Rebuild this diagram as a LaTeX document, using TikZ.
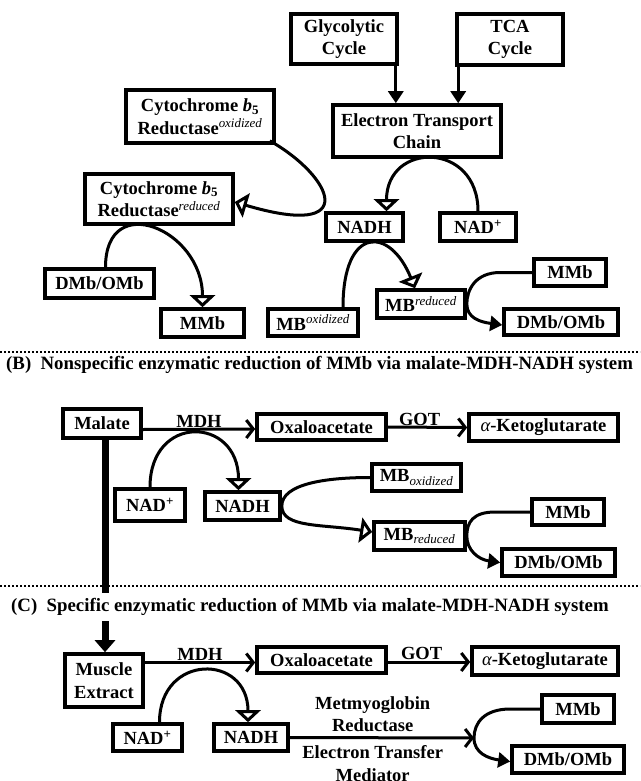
\documentclass[tikz,border=0pt]{standalone}
\usepackage{fontspec}
\setmainfont{Liberation Serif}
\usetikzlibrary{arrows.meta,calc}

\newcommand{\boxfont}{\bfseries\fontsize{18.5}{22.5}\selectfont}
\newcommand{\headfont}{\bfseries\fontsize{18.8}{22}\selectfont}
\newcommand{\supit}[1]{\textsuperscript{\mdseries\itshape #1}}
\newcommand{\subit}[1]{\textsubscript{\mdseries\itshape #1}}

\tikzset{
  box/.style={draw, line width=3.6pt, fill=white, font=\boxfont, align=center, inner sep=2pt},
  lbl/.style={font=\boxfont, align=center, inner sep=0.5pt},
  link/.style={line width=3pt},
  openhead/.style={link, -{Triangle[open, length=12pt, width=25pt]}},
  fillhead/.style={link, -{Triangle[length=12pt, width=15pt]}},
  barbhead/.style={link, -{Straight Barb[length=7pt, width=18pt]}},
  sep/.style={line width=2pt, dash pattern=on 2pt off 2pt},
  heading/.style={font=\headfont, anchor=west, inner sep=0pt},
}

\begin{document}
\begin{tikzpicture}[x=1pt,y=-1pt]
    \useasboundingbox (0,0) rectangle (640,781);

    % (A) Sources of NADH
    \node[box, minimum width=106pt, minimum height=50pt] (glyc) at (344,39) {Glycolytic\\Cycle};
    \node[box, minimum width=106pt, minimum height=51pt] (tca) at (510,39.5) {TCA\\Cycle};
    \node[box, minimum width=168pt, minimum height=52pt] (etc) at (417,131) {Electron Transport\\Chain};
    \node[box, minimum width=148pt, minimum height=53pt] (cytox) at (200,116.5) {Cytochrome \textit{b}\textsubscript{5}\\Reductase\supit{oxidized}};
    \node[box, minimum width=148pt, minimum height=50pt] (cytred) at (159,199) {Cytochrome \textit{b}\textsubscript{5}\\Reductase\supit{reduced}};
    \node[box, minimum width=77pt, minimum height=28pt] (nadhA) at (364.5,227) {NADH};
    \node[box, minimum width=76pt, minimum height=28pt] (nadpA) at (478,227) {NAD\textsuperscript{+}};

    % (A) Myoglobin pairs
    \node[box, minimum width=109pt, minimum height=29pt] (dmbA) at (99.5,283.5) {DMb/OMb};
    \node[box, minimum width=83pt, minimum height=28pt] (mmbA) at (202.5,323) {MMb};
    \node[box, minimum width=90pt, minimum height=27pt] (mboxA) at (313,322.5) {MB\supit{oxidized}};
    \node[box, minimum width=88pt, minimum height=28pt] (mbredA) at (421,304) {MB\supit{reduced}};
    \node[box, minimum width=72pt, minimum height=27pt] (mmbA2) at (570,272.5) {MMb};
    \node[box, minimum width=114pt, minimum height=26pt] (dmbA2) at (561,322) {DMb/OMb};

    \draw[fillhead] ([xshift=-3pt]glyc.south east) -- ([xshift=-3pt]glyc.south east |- etc.north);
    \draw[fillhead] ([xshift=3pt]tca.south west) -- ([xshift=3pt]tca.south west |- etc.north);
    \draw[openhead] (nadpA.north) .. controls +(0,-70) and +(0,-70) .. ($(nadhA.north)+(22,0)$);
    \draw[openhead] ($(cytox.south east)+(-6,-4)$) .. controls +(62,35) and +(128,38) .. ($(cytred.east)+(0,3)$);
    \draw[openhead] ($(dmbA.north)+(6,0)$) .. controls +(0,-78) and +(0,-78) .. (mmbA.north);
    \draw[openhead] ($(mboxA.north)+(30,0)$) .. controls +(0,-82) and +(-25,-62) .. ($(mbredA.north)+(-6,0)$);
    \draw[fillhead] (mmbA2.west) -- ++(-32,0) .. controls +(-25,0) and +(0,-14) .. (mbredA.east)
        .. controls +(0,14) and +(-22,-3) .. ($(dmbA2.west)+(0,3)$);

    \draw[sep] (0,352) -- (640,352);

    % (B) Malate-MDH-NADH system
    \node[heading] (headB) at (6,365) {(B)~~Nonspecific enzymatic reduction of MMb via malate-MDH-NADH system};
    \node[box, minimum width=78pt, minimum height=29pt] (malate) at (102,423.5) {Malate};
    \node[box, minimum width=129pt, minimum height=26pt] (oxaB) at (321.5,427) {Oxaloacetate};
    \node[box, minimum width=149pt, minimum height=27pt] (akgB) at (543.5,427.5) {{\mdseries\itshape α}-Ketoglutarate};
    \node[box, minimum width=70pt, minimum height=32pt] (nadpB) at (150,505) {NAD\textsuperscript{+}};
    \node[box, minimum width=75pt, minimum height=28pt] (nadhB) at (242.5,506) {NADH};
    \node[box, minimum width=89pt, minimum height=27pt] (mboxB) at (416.5,477.5) {MB\subit{oxidized}};
    \node[box, minimum width=91pt, minimum height=28pt] (mbredB) at (419.5,536) {MB\subit{reduced}};
    \node[box, minimum width=72pt, minimum height=26pt] (mmbB) at (568,512) {MMb};
    \node[box, minimum width=113pt, minimum height=27pt] (dmbB) at (558.5,562.5) {DMb/OMb};

    \draw[barbhead] ($(malate.east)+(0,6)$) -- node[lbl, above] {MDH} ($(oxaB.west)+(0,2)$);
    \draw[barbhead] (oxaB.east) -- node[lbl, above, pos=0.4] {GOT} (akgB.west);
    \draw[openhead] (nadpB.north) .. controls +(0,-74) and +(0,-74) .. ($(nadhB.north)+(-4,0)$);
    \draw[link] (nadhB.east) .. controls +(0,-22) and +(-45,0) .. (mboxB.west);
    \draw[openhead] (nadhB.east) .. controls +(0,22) and +(-50,-8) .. ($(mbredB.west)+(0,-4)$);
    \draw[fillhead] (mmbB.west) -- ++(-35,0) .. controls +(-22,0) and +(0,-14) .. (mbredB.east)
        .. controls +(0,14) and +(-22,-3) .. (dmbB.west);

    \draw[sep] (0,586) -- (640,586);

    % (C) Muscle extract
    \node[box, minimum width=78pt, minimum height=53pt] (muscle) at (104,680.5) {Muscle\\Extract};
    \draw[line width=7pt, -{Triangle[length=12pt, width=20pt]}] ($(malate.south)+(3,0)$) -- ($(muscle.north)+(1,0)$);
    \node[heading, fill=white, inner ysep=5pt] (headC) at (11,607) {(C)~~Specific enzymatic reduction of MMb via malate-MDH-NADH system};

    \node[box, minimum width=129pt, minimum height=26pt] (oxaC) at (321.5,660) {Oxaloacetate};
    \node[box, minimum width=146pt, minimum height=28pt] (akgC) at (545,661) {{\mdseries\itshape α}-Ketoglutarate};
    \node[box, minimum width=69pt, minimum height=27pt] (nadpC) at (147.5,737.5) {NAD\textsuperscript{+}};
    \node[box, minimum width=74pt, minimum height=27pt] (nadhC) at (251,737.5) {NADH};
    \node[box, minimum width=72pt, minimum height=28pt] (mmbC) at (578,709) {MMb};
    \node[box, minimum width=112pt, minimum height=27pt] (dmbC) at (568,759.5) {DMb/OMb};
    \coordinate (meet) at (474,738);

    \draw[barbhead] ($(muscle.east)+(0,-18)$) -- node[lbl, above] {MDH} ($(oxaC.west)+(0,2.5)$);
    \draw[barbhead] ($(oxaC.east)+(0,2)$) -- node[lbl, above, pos=0.41] {GOT} ($(akgC.west)+(0,1)$);
    \draw[openhead] ($(nadpC.north)+(12,0)$) .. controls +(0,-69) and +(0,-69) .. ($(nadhC.north)+(-3,0)$);
    \draw[barbhead] (nadhC.east) -- node[lbl, above=4pt, pos=0.45] {Metmyoglobin\\Reductase}
        node[lbl, below=6pt, pos=0.45] {Electron Transfer\\Mediator} (meet);
    \draw[fillhead] (mmbC.west) -- ++(-30,0) .. controls +(-26,0) and +(0,-15) .. (meet)
        .. controls +(0,15) and +(-22,-3) .. ($(dmbC.west)+(0,2)$);
\end{tikzpicture}
\end{document}
